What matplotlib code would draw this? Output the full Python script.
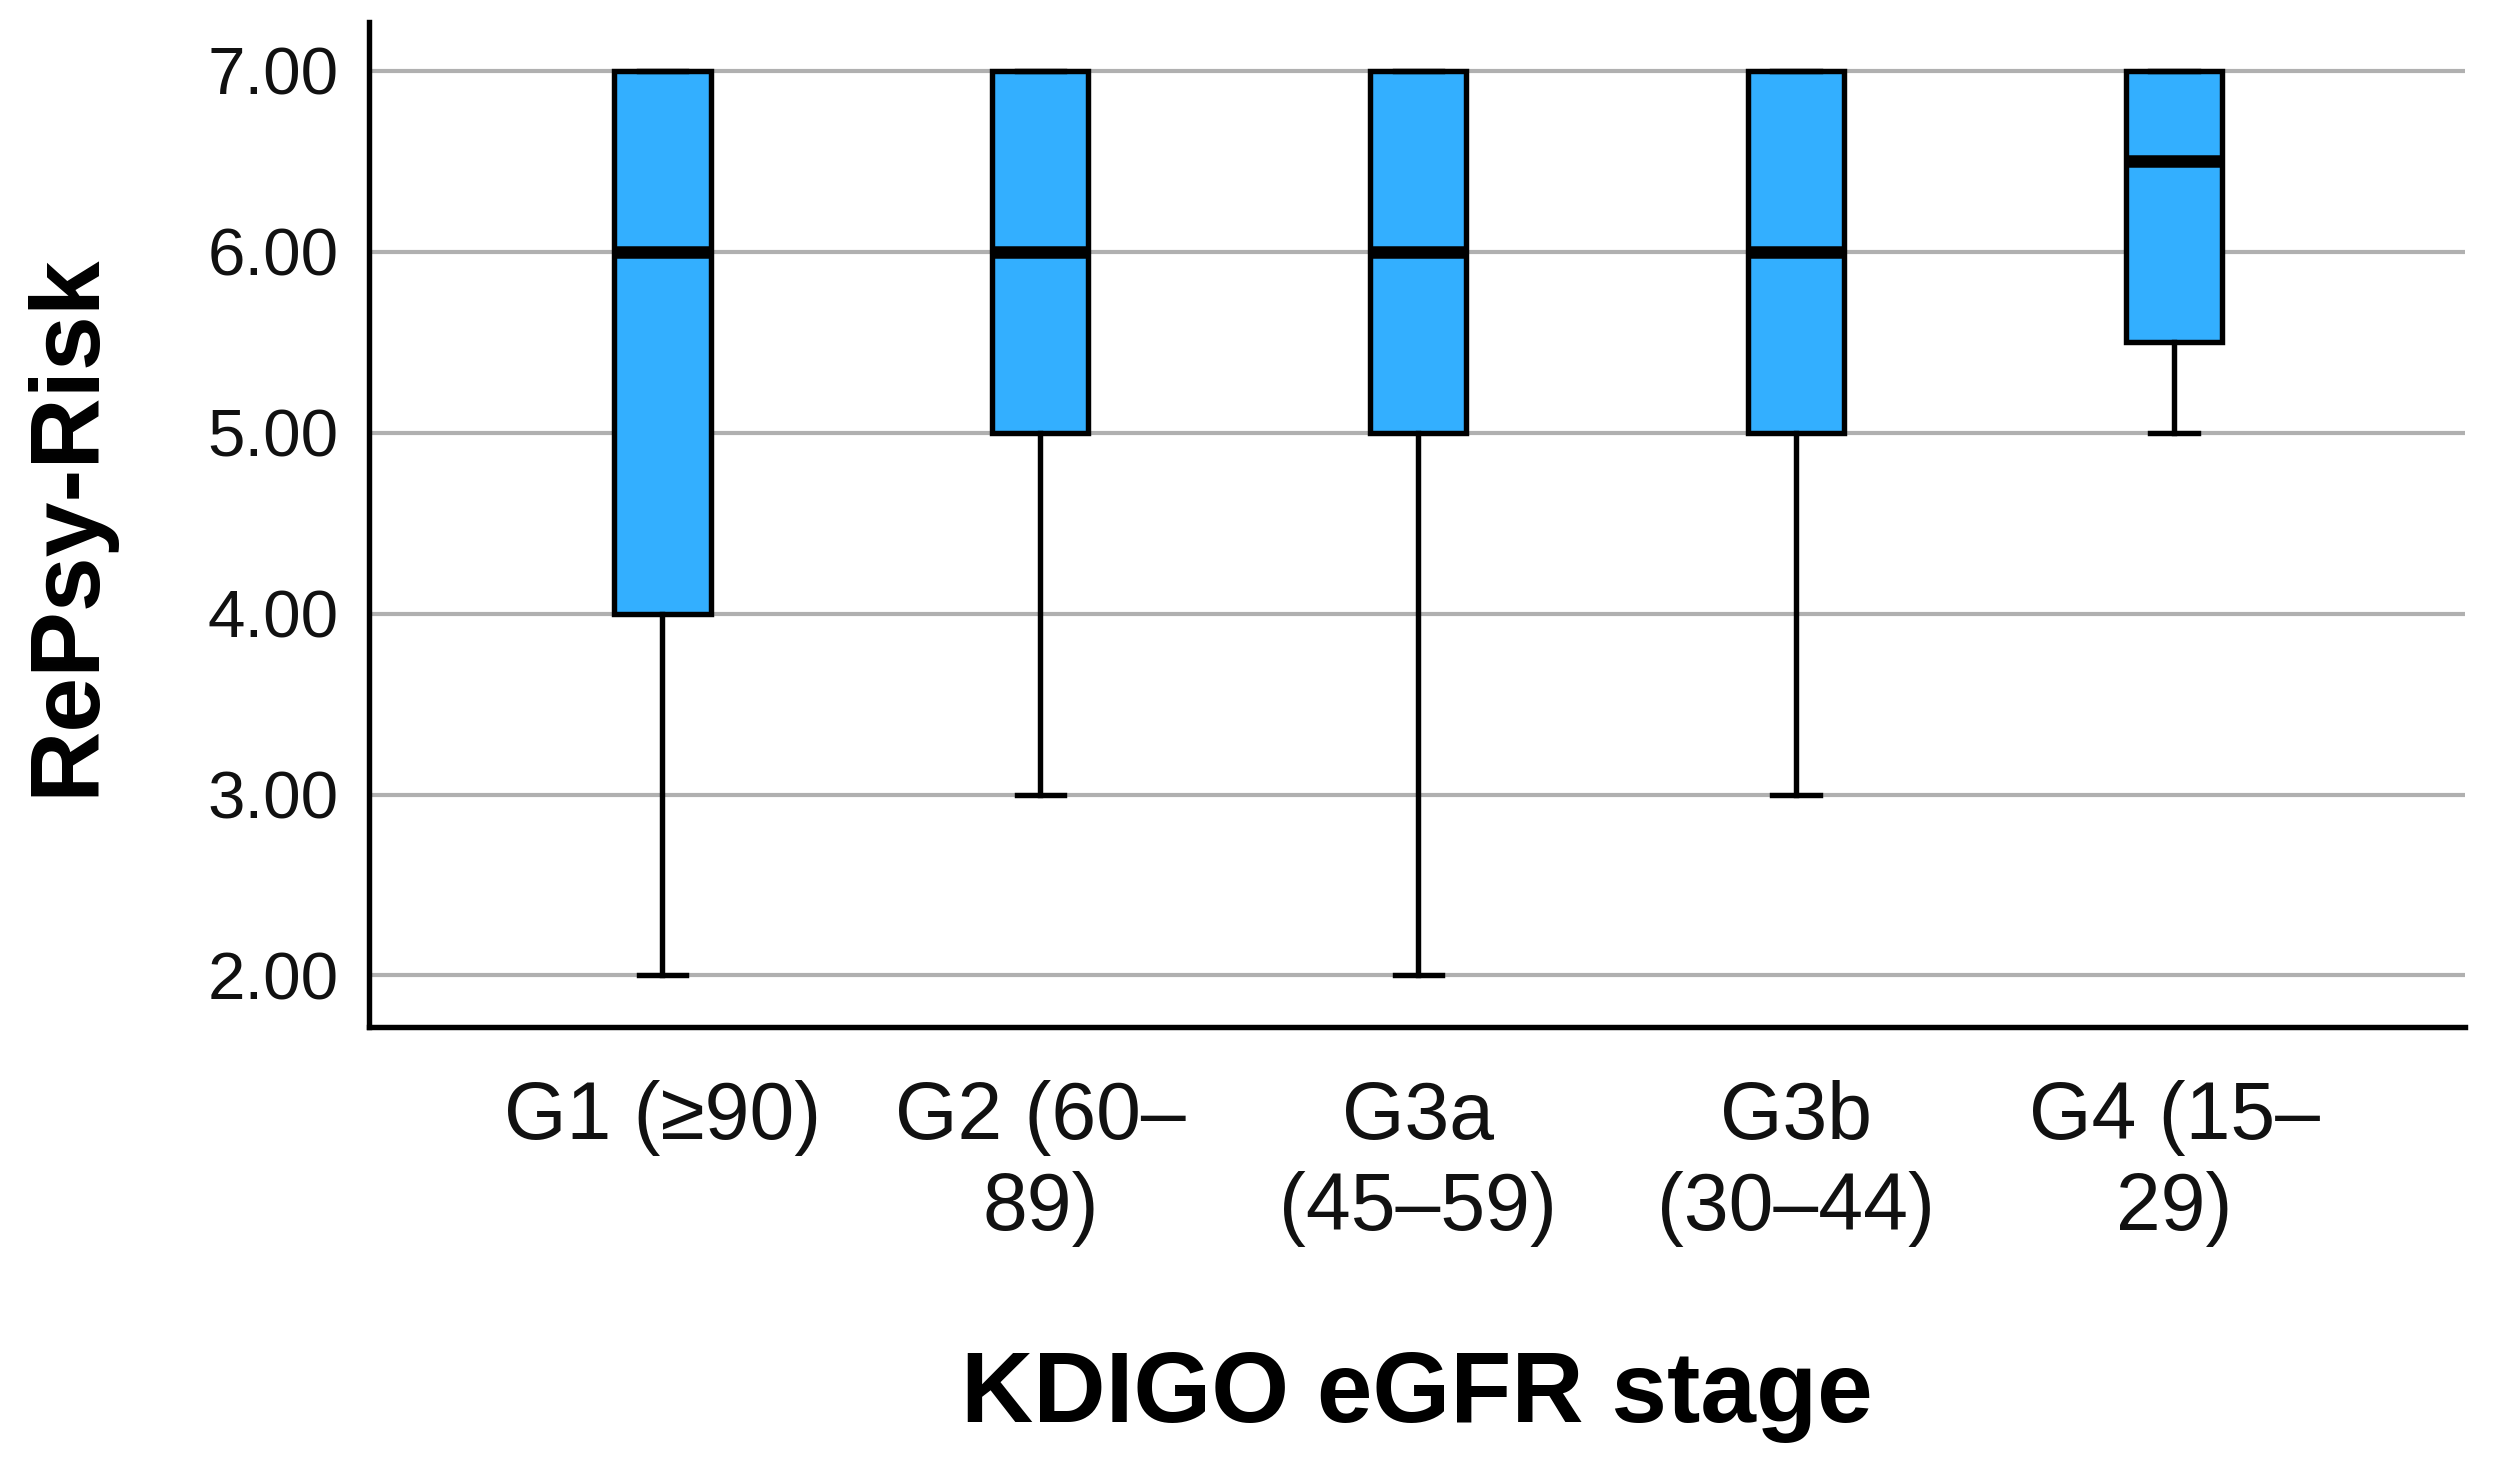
import matplotlib
matplotlib.use('Agg')
import matplotlib.pyplot as plt

plt.rcParams['font.family'] = ['Liberation Sans', 'DejaVu Sans']

# data
stages = ['G1 (≥90)', 'G2 (60–\n89)', 'G3a\n(45–59)', 'G3b\n(30–44)', 'G4 (15–\n29)']
whis_lo = [2.0, 3.0, 2.0, 3.0, 5.0]
q1 = [4.0, 5.0, 5.0, 5.0, 5.5]
median = [6.0, 6.0, 6.0, 6.0, 6.5]
q3 = [7.0, 7.0, 7.0, 7.0, 7.0]
whis_hi = [7.0, 7.0, 7.0, 7.0, 7.0]
y_ticks = [2.0, 3.0, 4.0, 5.0, 6.0, 7.0]

stats = []
for i in range(len(stages)):
    stats.append({'whislo': whis_lo[i], 'q1': q1[i], 'med': median[i],
                  'q3': q3[i], 'whishi': whis_hi[i], 'fliers': []})

fig = plt.figure(figsize=(24.97, 14.59), dpi=100)
ax = fig.add_axes([0.1478, 0.2961, 0.8394, 0.6888])

ax.set_axisbelow(True)
ax.yaxis.grid(True, color='#b0b0b0', linewidth=3.0, zorder=0)

lw = 3.9
ax.bxp(stats, positions=range(len(stages)), widths=0.255, patch_artist=True,
       showfliers=False,
       boxprops=dict(facecolor='#33afff', edgecolor='black', linewidth=lw),
       medianprops=dict(color='black', linewidth=9.0),
       whiskerprops=dict(color='black', linewidth=lw),
       capprops=dict(color='black', linewidth=lw),
       capwidths=0.125)

ax.set_xlim(-0.776, 4.77)
ax.set_ylim(1.715, 7.27)
ax.set_yticks(y_ticks)
ax.set_yticklabels([f'{v:.2f}' for v in y_ticks])
ax.set_xticks(range(len(stages)))
ax.set_xticklabels(stages, linespacing=1.25)

for s in ['top', 'right']:
    ax.spines[s].set_visible(False)
for s in ['left', 'bottom']:
    ax.spines[s].set_linewidth(3.9)
    ax.spines[s].set_color('black')

ax.tick_params(axis='both', length=0, colors='#111111')
ax.tick_params(axis='y', pad=22, labelsize=48.5)
ax.tick_params(axis='x', pad=38, labelsize=58)

ax.set_xlabel('KDIGO eGFR stage', fontsize=72, fontweight='bold', labelpad=74)
ax.set_ylabel('RePsy-Risk', fontsize=71, fontweight='bold', labelpad=68)

fig.savefig('out.png', dpi=100, facecolor='white')
